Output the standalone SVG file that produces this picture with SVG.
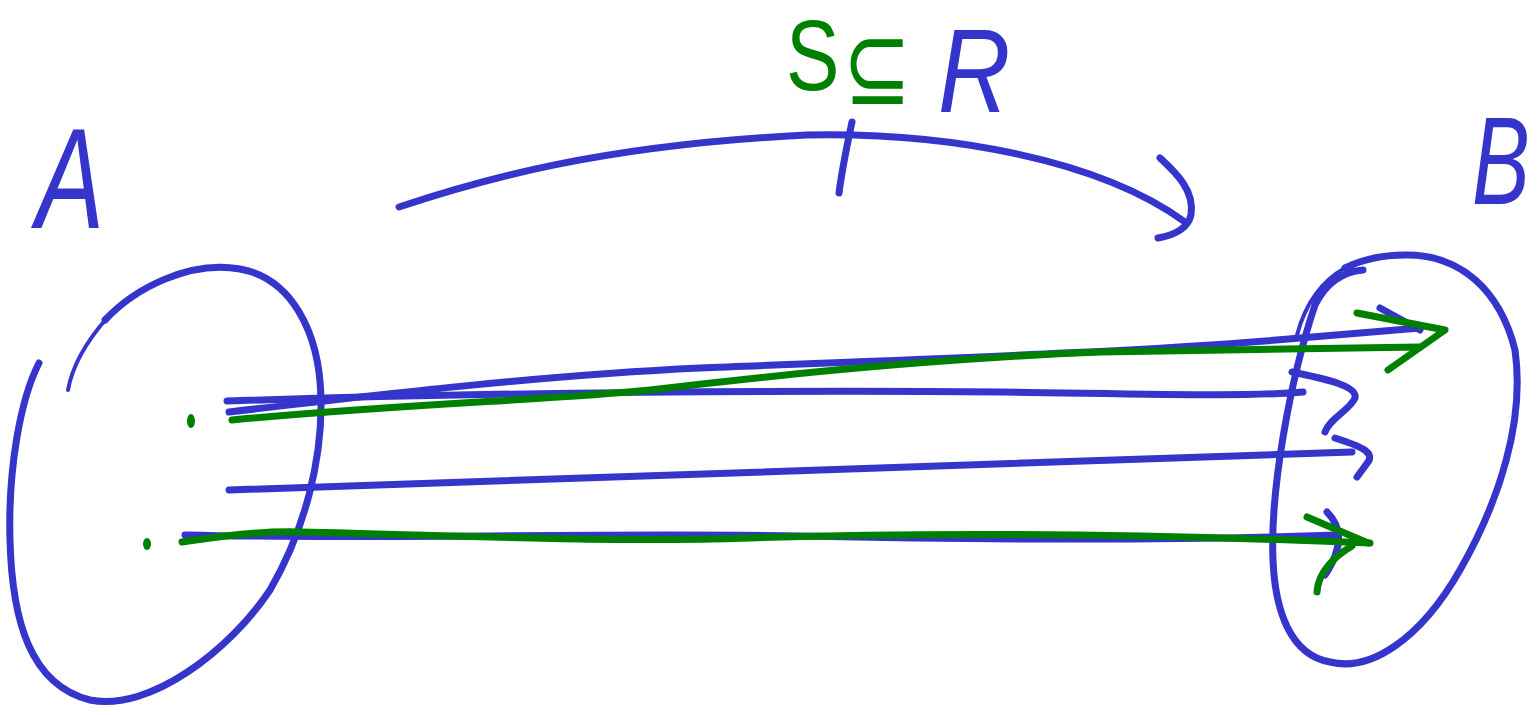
<svg xmlns="http://www.w3.org/2000/svg" width="1539" height="715" viewBox="0 0 1539 715">
<style>
.b{fill:none;stroke:#3535cc;stroke-width:7;stroke-linecap:round;stroke-linejoin:round}
.g{fill:none;stroke:#008000;stroke-width:7;stroke-linecap:round;stroke-linejoin:round}
.thin{stroke-width:4}
.tb{fill:#3535cc;font-family:"Liberation Sans",sans-serif}
.tg{fill:#008000;font-family:"Liberation Sans",sans-serif}
</style>
<rect width="1539" height="715" fill="#ffffff"/>
<g id="setA">
<path class="b" d="M39,363 C20,400 8,470 10,540 C12,620 30,685 90,700 C150,712 230,650 270,590 C305,530 322,460 321,400 C320,330 290,278 240,269 C190,260 135,288 105,320"/>
<path class="b thin" d="M107,318 C85,343 72,368 68,390"/>
<ellipse cx="191" cy="421" rx="4" ry="7" fill="#008000"/>
<ellipse cx="147" cy="544" rx="4" ry="6" fill="#008000"/>
<text class="tb" transform="translate(36,228) scale(0.72,1)" font-size="142" font-style="italic">A</text>
</g>
<g id="setB">
<path class="b thin" d="M1297,335 C1305,305 1320,282 1345,268"/>
<path class="b" d="M1345,268 C1365,258 1385,255 1405,255 C1460,254 1500,290 1515,350 C1525,420 1500,500 1460,570 C1420,640 1370,672 1330,662 C1290,655 1275,610 1273,560 C1270,490 1290,380 1315,305 C1325,285 1340,272 1363,270"/>
<text class="tb" transform="translate(1472,204) scale(0.7,1)" font-size="124" font-style="italic">B</text>
</g>
<g id="label">
<text class="tg" transform="translate(786,90) scale(0.8,1)" font-size="100">S</text>
<text class="tg" transform="translate(843,104) scale(0.85,1.1)" font-size="96" style="font-family:'DejaVu Sans',sans-serif">⊆</text>
<text class="tb" transform="translate(938,112) scale(0.85,1)" font-size="118" font-style="italic">R</text>
</g>
<g id="connectors">
<path class="b" d="M399,207 C480,180 600,145 807,135 C950,132 1100,160 1185,222"/>
<path class="b" d="M1160,158 C1175,172 1195,190 1191,215 C1188,228 1175,235 1158,238"/>
<path class="b" d="M852,122 C846,150 842,170 839,193"/>
<path class="b" d="M227,401 C500,392 800,390 1000,392 C1150,394 1250,397 1303,392"/>
<path class="b" d="M229,412 C400,392 550,375 700,368 C900,360 1150,352 1300,338 L1420,328"/>
<path class="b" d="M1380,308 L1420,330"/>
<path class="b" d="M1292,372 C1320,378 1358,385 1355,398 C1350,410 1330,418 1325,432"/>
<path class="b" d="M229,490 C500,478 900,465 1352,452"/>
<path class="b" d="M1335,438 C1360,446 1375,452 1368,462 L1357,477"/>
<path class="b" d="M185,535 C400,540 600,532 800,536 C1000,540 1200,540 1337,535"/>
<path class="b" d="M1327,512 C1340,525 1345,545 1325,575"/>
<path class="g" d="M232,420 C400,404 550,400 650,390 C800,372 950,358 1100,352 L1420,347"/>
<path class="g" d="M1357,313 L1445,330 L1388,370"/>
<path class="g" d="M182,542 C230,535 260,531 300,532 C450,535 600,543 750,538 C900,533 1100,532 1370,543"/>
<path class="g" d="M1307,517 L1368,543 M1352,546 C1335,556 1318,572 1317,592"/>
</g>
</svg>
